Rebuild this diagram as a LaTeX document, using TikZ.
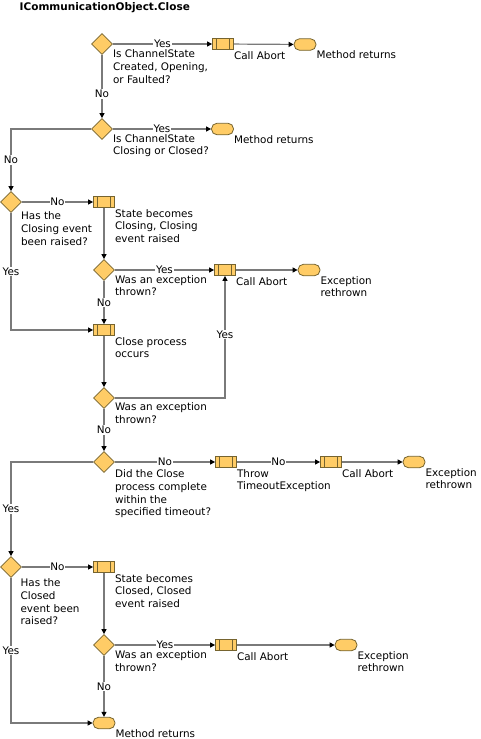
\documentclass[tikz,border=0pt]{standalone}
\usepackage{fontspec}
\setmainfont{DejaVu Sans}
\usepackage{tikz}
\usetikzlibrary{positioning,arrows.meta,shapes.geometric}
\definecolor{amber}{HTML}{FFCC66}
\definecolor{umber}{HTML}{76642F}
\definecolor{wire}{HTML}{7A7A7A}

\begin{document}
\begin{tikzpicture}[
  x=1pt, y=-1pt,
  font=\fontsize{10.4}{12.7}\selectfont,
  query/.style={diamond, draw=umber, fill=amber, line width=0.8pt,
                minimum width=21pt, minimum height=21pt, inner sep=0pt},
  action/.style={rectangle, draw=umber, fill=amber, line width=0.8pt,
                 minimum width=21pt, minimum height=11pt, inner sep=0pt,
                 path picture={
                   \draw[umber, line width=0.8pt]
                     ([xshift=4pt]path picture bounding box.north west) --
                     ([xshift=4pt]path picture bounding box.south west)
                     ([xshift=-4.5pt]path picture bounding box.north east) --
                     ([xshift=-4.5pt]path picture bounding box.south east);}},
  finish/.style={rectangle, rounded corners=5.5pt, draw=umber, fill=amber,
                 line width=0.8pt, minimum width=22pt, minimum height=11.5pt,
                 inner sep=0pt},
  note/.style={anchor=north west, align=left, inner sep=0pt},
  flow/.style={draw=wire, line width=1.2pt,
               -{Triangle[length=5pt, width=5pt, color=black]}},
  say/.style={fill=white, inner sep=0.8pt},
]
\useasboundingbox (0,0) rectangle (480,739);

\node[anchor=base west, inner sep=0pt, font=\fontsize{10.5}{12}\selectfont\bfseries]
  (title) at (19.5,10.3) {ICommunicationObject.Close};

\node[query]  (d1) at (102,44) {};
\node[action] (p1) at (223,44) {};
\node[finish] (t1) at (305,44.5) {};
\node[query]  (d2) at (102,129) {};
\node[finish] (t2) at (222.5,129) {};
\node[query]  (d3) at (11,202) {};
\node[action] (p2) at (104,202) {};
\node[query]  (d4) at (104,270) {};
\node[action] (p3) at (225,270) {};
\node[finish] (t3) at (309,270) {};
\node[action] (p4) at (104,330) {};
\node[query]  (d5) at (104,398) {};
\node[query]  (d6) at (104,462) {};
\node[action] (p5) at (226,462) {};
\node[action] (p6) at (331,462) {};
\node[finish] (t4) at (414,462) {};
\node[query]  (d7) at (11,567) {};
\node[action] (p7) at (104,567) {};
\node[query]  (d8) at (104,645) {};
\node[action] (p8) at (226,645) {};
\node[finish] (t5) at (346,645) {};
\node[finish] (t6) at (104,723) {};

\node[note, yshift=-5.5pt] (d1txt) at (d1.east) {Is ChannelState\\Created, Opening,\\or Faulted?};
\node[note, yshift=-1pt] (p1txt) at (p1.south east) {Call Abort};
\node[note] (t1txt) at (t1.south east) {Method returns};
\node[note, yshift=-5pt] (d2txt) at (d2.east) {Is ChannelState\\Closing or Closed?};
\node[note] (t2txt) at (t2.south east) {Method returns};
\node[note, yshift=-9.7pt, xshift=-1pt] (d3txt) at (d3.east) {Has the\\Closing event\\been raised?};
\node[note, yshift=-1pt] (p2txt) at (p2.south east) {State becomes\\Closing, Closing\\event raised};
\node[note, yshift=-5pt] (d4txt) at (d4.east) {Was an exception\\thrown?};
\node[note, yshift=-1pt] (p3txt) at (p3.south east) {Call Abort};
\node[note] (t3txt) at (t3.south east) {Exception\\rethrown};
\node[note, yshift=-1pt] (p4txt) at (p4.south east) {Close process\\occurs};
\node[note, yshift=-4.7pt] (d5txt) at (d5.east) {Was an exception\\thrown?};
\node[note, yshift=-7.5pt] (d6txt) at (d6.east) {Did the Close\\process complete\\within the\\specified timeout?};
\node[note, yshift=-1pt] (p5txt) at (p5.south east) {Throw\\TimeoutException};
\node[note, yshift=-1pt] (p6txt) at (p6.south east) {Call Abort};
\node[note] (t4txt) at (t4.south east) {Exception\\rethrown};
\node[note, yshift=-11.5pt, xshift=-1.5pt] (d7txt) at (d7.east) {Has the\\Closed\\event been\\raised?};
\node[note, yshift=-1pt] (p7txt) at (p7.south east) {State becomes\\Closed, Closed\\event raised};
\node[note, yshift=-5.5pt] (d8txt) at (d8.east) {Was an exception\\thrown?};
\node[note, yshift=-1pt] (p8txt) at (p8.south east) {Call Abort};
\node[note] (t5txt) at (t5.south east) {Exception\\rethrown};
\node[note] (t6txt) at (t6.south east) {Method returns};

\draw[flow] (d1) -- node[say] {Yes} (p1);
\draw[flow] (p1) -- (t1);
\draw[flow] (d1) -- node[say, pos=0.62] {No} (d2);
\draw[flow] (d2) -- node[say] {Yes} (t2);
\draw[flow] (d2.west) -| node[say, pos=0.75] {No} (d3.north);
\draw[flow] (d3) -- node[say] {No} (p2);
\draw[flow] (d3.south) |- node[say, pos=0.25] {Yes} (p4.west);
\draw[flow] (p2) -- (d4);
\draw[flow] (d4) -- node[say] {Yes} (p3);
\draw[flow] (p3) -- (t3);
\draw[flow] (d4) -- node[say] {No} (p4);
\draw[flow] (p4) -- (d5);
\draw[flow] (d5.east) -| node[say, pos=0.76] {Yes} (p3.south);
\draw[flow] (d5) -- node[say] {No} (d6);
\draw[flow] (d6) -- node[say] {No} (p5);
\draw[flow] (p5) -- node[say] {No} (p6);
\draw[flow] (p6) -- (t4);
\draw[flow] (d6.west) -| node[say, pos=0.75] {Yes} (d7.north);
\draw[flow] (d7) -- node[say] {No} (p7);
\draw[flow] (d7.south) |- node[say, pos=0.25] {Yes} (t6.west);
\draw[flow] (p7) -- (d8);
\draw[flow] (d8) -- node[say] {Yes} (p8);
\draw[flow] (p8) -- (t5);
\draw[flow] (d8) -- node[say] {No} (t6);

\end{tikzpicture}
\end{document}
